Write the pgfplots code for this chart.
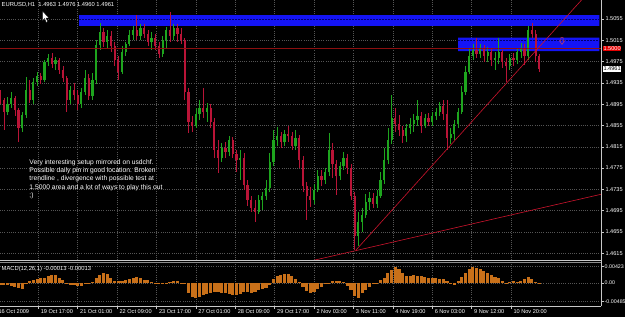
\documentclass[border=0pt]{standalone}
\usepackage{pgfplots}
\pgfplotsset{compat=1.18}
\usepackage{pgfplotstable}
\usepackage{fontspec}
\setmainfont{Liberation Sans}
\definecolor{upc}{RGB}{30,165,30}
\definecolor{dnc}{RGB}{185,20,55}
\definecolor{rectblue}{RGB}{20,20,245}
\definecolor{dashnavy}{RGB}{0,0,110}
\definecolor{hlinec}{RGB}{140,15,15}
\definecolor{trendc}{RGB}{205,20,45}
\definecolor{gridc}{RGB}{85,85,85}
\definecolor{axc}{RGB}{200,200,200}
\definecolor{macdc}{RGB}{200,112,25}
\newcommand{\smallf}{\fontsize{5.6}{6}\selectfont}

\pgfplotstableread{
x o h l c
7 1.48804 1.49085 1.48747 1.48954
10 1.48954 1.49179 1.48879 1.49067
19 1.48503 1.48804 1.48428 1.48747
22 1.48747 1.49461 1.48691 1.49217
28 1.49029 1.49442 1.48954 1.49367
31 1.49367 1.49555 1.49292 1.49480
37 1.49405 1.49780 1.49367 1.49743
40 1.49743 1.49893 1.49668 1.49818
46 1.49705 1.49837 1.49593 1.49780
58 1.49029 1.49292 1.48954 1.49217
67 1.48954 1.49254 1.48879 1.49179
70 1.49179 1.49593 1.49123 1.49442
76 1.49104 1.49536 1.49029 1.49405
79 1.49405 1.50156 1.49330 1.50062
82 1.50062 1.50475 1.49968 1.50306
88 1.50118 1.50344 1.50006 1.50231
100 1.49555 1.50043 1.49517 1.49931
103 1.49931 1.50118 1.49855 1.50081
106 1.50081 1.50344 1.50043 1.50250
109 1.50250 1.50419 1.50156 1.50344
115 1.50231 1.50456 1.50156 1.50381
124 1.50118 1.50306 1.49968 1.50193
133 1.49893 1.50231 1.49837 1.50156
136 1.50156 1.50400 1.50006 1.50344
142 1.50231 1.50456 1.50156 1.50381
160 1.48541 1.48879 1.48503 1.48766
163 1.48766 1.49029 1.48654 1.48879
169 1.48804 1.48973 1.48616 1.48879
181 1.47940 1.48222 1.47865 1.48128
187 1.48053 1.48353 1.47978 1.48278
196 1.47902 1.48090 1.47527 1.47940
211 1.46926 1.47245 1.46888 1.47151
214 1.47151 1.47301 1.46963 1.47226
217 1.47226 1.47527 1.47151 1.47377
220 1.47377 1.48034 1.47301 1.47865
223 1.47865 1.48466 1.47790 1.48278
226 1.48278 1.48522 1.48165 1.48353
232 1.48240 1.48466 1.48165 1.48391
241 1.48165 1.48466 1.48090 1.48316
256 1.47151 1.47452 1.47076 1.47339
259 1.47339 1.47715 1.47301 1.47602
265 1.47527 1.47752 1.47452 1.47677
268 1.47677 1.48409 1.47602 1.48090
277 1.47602 1.47865 1.47527 1.47790
280 1.47790 1.48053 1.47715 1.47940
292 1.46475 1.46926 1.46287 1.46738
295 1.46738 1.47001 1.46550 1.46870
298 1.46870 1.47264 1.46813 1.47114
301 1.47114 1.47301 1.46963 1.47189
307 1.47076 1.47339 1.47001 1.47226
310 1.47226 1.47677 1.47189 1.47527
313 1.47527 1.48128 1.47452 1.47902
316 1.47902 1.48503 1.47827 1.48278
319 1.48278 1.49123 1.48203 1.48691
331 1.48353 1.48578 1.48240 1.48503
334 1.48503 1.48691 1.48391 1.48578
337 1.48578 1.48766 1.48428 1.48654
340 1.48654 1.49029 1.48541 1.48729
346 1.48541 1.48766 1.48503 1.48691
352 1.48616 1.48804 1.48541 1.48729
355 1.48729 1.48879 1.48654 1.48804
358 1.48804 1.48992 1.48729 1.48916
367 1.48316 1.48503 1.48203 1.48391
370 1.48391 1.48654 1.48278 1.48578
373 1.48578 1.48879 1.48503 1.48804
376 1.48804 1.49292 1.48766 1.49179
379 1.49179 1.49668 1.49123 1.49555
382 1.49555 1.50006 1.49517 1.49855
385 1.49855 1.50081 1.49780 1.49968
391 1.49893 1.50081 1.49818 1.50006
397 1.49855 1.50024 1.49743 1.49931
403 1.49780 1.49931 1.49593 1.49818
406 1.49818 1.50193 1.49705 1.49931
415 1.49668 1.49893 1.49593 1.49818
421 1.49780 1.50006 1.49705 1.49931
424 1.49931 1.50100 1.49818 1.50006
430 1.49855 1.50419 1.49780 1.50344
}\upt

\pgfplotstableread{
x o h l c
1 1.49123 1.49217 1.48954 1.49029
4 1.49029 1.49067 1.48466 1.48804
13 1.49067 1.49104 1.48729 1.48841
16 1.48841 1.48879 1.48240 1.48503
25 1.49217 1.49405 1.48973 1.49029
34 1.49480 1.49536 1.49330 1.49405
43 1.49818 1.49912 1.49630 1.49705
49 1.49780 1.49818 1.49517 1.49593
52 1.49593 1.49668 1.49367 1.49442
55 1.49442 1.49480 1.48804 1.49029
61 1.49217 1.49348 1.49029 1.49123
64 1.49123 1.49217 1.48841 1.48954
73 1.49442 1.49517 1.49029 1.49104
85 1.50306 1.50381 1.50024 1.50118
91 1.50231 1.50325 1.49931 1.50043
94 1.50043 1.50118 1.49668 1.49780
97 1.49780 1.49855 1.49405 1.49555
112 1.50344 1.50625 1.50156 1.50231
118 1.50381 1.50456 1.50193 1.50269
121 1.50269 1.50344 1.50043 1.50118
127 1.50193 1.50269 1.49968 1.50043
130 1.50043 1.50118 1.49818 1.49893
139 1.50344 1.50682 1.50118 1.50231
145 1.50381 1.50456 1.50118 1.50269
148 1.50269 1.50381 1.50081 1.50156
151 1.50156 1.50193 1.49029 1.49179
154 1.49179 1.49254 1.48409 1.48616
157 1.48616 1.48729 1.48428 1.48541
166 1.48879 1.49254 1.48691 1.48804
172 1.48879 1.48954 1.48503 1.48616
175 1.48616 1.48691 1.47940 1.48090
178 1.48090 1.48278 1.47658 1.47940
184 1.48128 1.48240 1.47940 1.48053
190 1.48278 1.48334 1.47940 1.48015
193 1.48015 1.48090 1.47677 1.47902
199 1.47940 1.48034 1.47339 1.47433
202 1.47433 1.47527 1.47039 1.47151
205 1.47151 1.47226 1.46926 1.47001
208 1.47001 1.47151 1.46738 1.46926
229 1.48353 1.48428 1.48128 1.48240
235 1.48391 1.48541 1.48240 1.48353
238 1.48353 1.48428 1.48090 1.48165
244 1.48316 1.48372 1.47752 1.47902
247 1.47902 1.47978 1.47301 1.47414
250 1.47414 1.47489 1.46776 1.47226
253 1.47226 1.47395 1.47020 1.47151
262 1.47602 1.47715 1.47414 1.47527
271 1.48090 1.48222 1.47564 1.47827
274 1.47827 1.47902 1.47245 1.47602
283 1.47940 1.48015 1.47640 1.47752
286 1.47752 1.47827 1.47151 1.47226
289 1.47226 1.47301 1.46212 1.46475
304 1.47189 1.47283 1.47001 1.47076
322 1.48691 1.48879 1.48428 1.48578
325 1.48578 1.48747 1.48353 1.48466
328 1.48466 1.48541 1.48222 1.48353
343 1.48729 1.48804 1.48409 1.48541
349 1.48691 1.48785 1.48541 1.48616
361 1.48916 1.49029 1.48654 1.48766
364 1.48766 1.49029 1.48090 1.48316
388 1.49968 1.50193 1.49818 1.49893
394 1.50006 1.50062 1.49743 1.49855
400 1.49931 1.50006 1.49668 1.49780
409 1.49931 1.49968 1.49630 1.49743
412 1.49743 1.49818 1.49367 1.49668
418 1.49818 1.49912 1.49668 1.49780
427 1.50006 1.50081 1.49686 1.49855
433 1.50344 1.50475 1.50193 1.50269
436 1.50269 1.50344 1.49743 1.49855
439 1.49855 1.49893 1.49555 1.49611
}\dnt

\pgfplotstableread{
x m
1 -0.00039
4 -0.00044
7 -0.00039
10 -0.00065
13 -0.00091
16 -0.00117
19 -0.00148
22 0.00008
25 0.00065
28 0.00078
31 0.00117
34 0.00130
37 0.00143
40 0.00182
43 0.00216
46 0.00208
49 0.00130
52 0.00078
55 0.00013
58 -0.00039
61 -0.00044
64 -0.00065
67 -0.00086
70 -0.00026
73 0.00008
76 0.00026
79 0.00130
82 0.00221
85 0.00260
88 0.00234
91 0.00130
94 0.00052
97 0.00044
100 0.00065
103 0.00086
106 0.00104
109 0.00143
112 0.00148
115 0.00130
118 0.00091
121 0.00078
124 0.00026
127 0.00008
130 -0.00005
133 -0.00026
136 -0.00026
139 0.00026
142 0.00060
145 0.00052
148 0.00013
151 -0.00026
154 -0.00260
157 -0.00351
160 -0.00390
163 -0.00364
166 -0.00312
169 -0.00286
172 -0.00260
175 -0.00221
178 -0.00234
181 -0.00260
184 -0.00260
187 -0.00273
190 -0.00299
193 -0.00304
196 -0.00273
199 -0.00234
202 -0.00221
205 -0.00247
208 -0.00234
211 -0.00169
214 -0.00143
217 -0.00130
220 -0.00039
223 0.00104
226 0.00195
229 0.00216
232 0.00247
235 0.00247
238 0.00182
241 0.00104
244 0.00039
247 -0.00104
250 -0.00195
253 -0.00260
256 -0.00221
259 -0.00156
262 -0.00091
265 -0.00026
268 0.00013
271 0.00060
274 0.00052
277 0.00044
280 0.00026
283 -0.00065
286 -0.00182
289 -0.00325
292 -0.00390
295 -0.00260
298 -0.00169
301 -0.00104
304 -0.00026
307 0.00013
310 0.00078
313 0.00130
316 0.00260
319 0.00338
322 0.00423
325 0.00364
328 0.00273
331 0.00195
334 0.00182
337 0.00208
340 0.00182
343 0.00195
346 0.00169
349 0.00130
352 0.00130
355 0.00130
358 0.00104
361 0.00104
364 0.00052
367 -0.00013
370 -0.00039
373 0.00052
376 0.00156
379 0.00260
382 0.00364
385 0.00416
388 0.00403
391 0.00364
394 0.00312
397 0.00273
400 0.00208
403 0.00169
406 0.00130
409 0.00052
412 0.00013
415 0.00039
418 0.00052
421 0.00039
424 0.00052
427 0.00104
430 0.00169
433 0.00104
436 0.00039
439 -0.00013
}\macdt

% draw candles of a table: #1 table, #2 colour, #3 last row index
\newcommand{\drawcandles}[3]{%
  \pgfplotsforeachungrouped \i in {0,...,#3}{%
    \pgfplotstablegetelem{\i}{x}\of#1\let\cX\pgfplotsretval
    \pgfplotstablegetelem{\i}{o}\of#1\let\cO\pgfplotsretval
    \pgfplotstablegetelem{\i}{h}\of#1\let\cH\pgfplotsretval
    \pgfplotstablegetelem{\i}{l}\of#1\let\cL\pgfplotsretval
    \pgfplotstablegetelem{\i}{c}\of#1\let\cC\pgfplotsretval
    \edef\doit{%
      \noexpand\addplot[#2, line width=0.6pt, forget plot] coordinates {(\cX,\cL) (\cX,\cH)};
      \noexpand\addplot[#2, line width=2.2pt, forget plot] coordinates {(\cX,\cO) (\cX,\cC)};
    }\doit
  }%
}

\begin{document}
\begin{tikzpicture}
\useasboundingbox (0,0) rectangle (625pt,317pt);
\fill[black] (0,0) rectangle (625pt,317pt);

% ---------------- main price panel ----------------
\begin{axis}[
  at={(0pt,57pt)}, anchor=south west, scale only axis,
  width=601pt, height=260pt,
  xmin=0.894, xmax=489.1, ymin=1.46024, ymax=1.50907,
  axis line style={draw=none},
  scaled ticks=false,
  tick align=outside, major tick length=2.5pt,
  xtick={32,64,96,128,160,192,224,256,288,320,352,384,416},
  xticklabels={}, xtick style={draw=none},
  ytick={1.4615,1.4655,1.4695,1.4735,1.4775,1.4815,1.4855,1.4895,1.4935,1.4975,1.5015,1.5055},
  yticklabels={1.4615,1.4655,1.4695,1.4735,1.4775,1.4815,1.4855,1.4895,1.4935,1.4975,1.5015,1.5055},
  ytick pos=right, yticklabel pos=right,
  yticklabel style={xshift=-1.5pt},
  ytick style={draw=axc, line width=0.5pt},
  tick label style={font=\smallf, text=white},
  grid=major,
  major grid style={draw=gridc, line width=0.5pt, dash pattern=on 0.7pt off 1.5pt},
]
% resistance zones
\addplot[fill=rectblue, draw=none, forget plot] coordinates {(65.1,1.50419) (487.7,1.50419) (487.7,1.50625) (65.1,1.50625) (65.1,1.50419)};
\addplot[fill=rectblue, draw=none, forget plot] coordinates {(373.0,1.49949) (487.7,1.49949) (487.7,1.50199) (373.0,1.50199) (373.0,1.49949)};
\addplot[dashnavy, line width=0.5pt, dash pattern=on 1.5pt off 1.5pt, forget plot] coordinates {(65.1,1.5055) (487.7,1.5055)};
\addplot[dashnavy, line width=0.5pt, dash pattern=on 1.5pt off 1.5pt, forget plot] coordinates {(373.0,1.5015) (487.7,1.5015)};

% candles
\drawcandles{\upt}{upc}{76}
\drawcandles{\dnt}{dnc}{69}

% 1.5000 level
\addplot[hlinec, line width=1.1pt, forget plot] coordinates {(0.894,1.5000) (489.1,1.5000)};
% trend lines
\addplot[trendc, line width=0.6pt, forget plot] coordinates {(240,1.45935) (489.1,1.47258)};
\addplot[trendc, line width=0.6pt, forget plot] coordinates {(290.1,1.46212) (480,1.51079)};
\end{axis}

% ---------------- MACD panel ----------------
\begin{axis}[
  at={(0pt,11pt)}, anchor=south west, scale only axis,
  width=601pt, height=43.5pt,
  xmin=0.894, xmax=489.1, ymin=-0.00598, ymax=0.00533,
  axis line style={draw=none},
  scaled ticks=false,
  tick align=outside, major tick length=2.5pt,
  xtick={32,64,96,128,160,192,224,256,288,320,352,384,416},
  xticklabels={19 Oct 17:00,21 Oct 01:00,22 Oct 09:00,23 Oct 17:00,27 Oct 01:00,28 Oct 09:00,29 Oct 17:00,2 Nov 03:00,3 Nov 11:00,4 Nov 19:00,6 Nov 03:00,9 Nov 12:00,10 Nov 20:00},
  xtick pos=bottom, xticklabel pos=bottom,
  xticklabel style={anchor=west, xshift=-1pt, yshift=-3.5pt},
  xtick style={draw=axc, line width=0.5pt},
  ytick={-0.00485,0,0.00423},
  yticklabels={-0.00485,0.00,0.00423},
  ytick pos=right, yticklabel pos=right,
  yticklabel style={xshift=-2.3pt, font=\fontsize{5.3}{6}\selectfont},
  ytick style={draw=axc, line width=0.5pt},
  tick label style={font=\smallf, text=white},
  grid=major,
  major grid style={draw=gridc, line width=0.5pt, dash pattern=on 0.7pt off 1.5pt},
]
\addplot[ycomb, draw=macdc, line width=3.1pt, mark=none] table[x=x, y=m] {\macdt};
\end{axis}

% frame lines
\draw[axc, line width=0.8pt] (601pt,11pt) -- (601pt,317pt);
\draw[axc, line width=0.8pt] (0,11pt) -- (601pt,11pt);
\draw[axc, line width=0.7pt] (0,56.7pt) -- (601pt,56.7pt);
\draw[axc!70!black, line width=0.7pt] (0,54.8pt) -- (601pt,54.8pt);

% down-arrow object
\draw[trendc!80!white, line width=0.45pt] (560.9pt,279.4pt) -- (563.1pt,279.4pt) -- (563.1pt,276.2pt) -- (564.6pt,276.2pt) -- (562pt,272.6pt) -- (559.4pt,276.2pt) -- (560.9pt,276.2pt) -- cycle;

% labels
\node[anchor=west, inner sep=0pt, text=white, font=\smallf] at (-1.6pt,5pt) {16 Oct 2009};
\node[anchor=west, inner sep=0pt, text=white, font=\fontsize{5.8}{6.2}\selectfont] at (1.5pt,312.3pt) {EURUSD,H1\ \ 1.4963 1.4976 1.4960 1.4961};
\node[anchor=west, inner sep=0pt, text=white, font=\fontsize{5.8}{6.2}\selectfont] at (1.5pt,48pt) {MACD(12,26,1) -0.00013 -0.00013};
\node[anchor=west, fill=red!90!black, text=white, inner sep=0.7pt, font=\smallf] at (602.6pt,268.7pt) {1.5000};
\node[anchor=west, fill=white, text=black, inner sep=0.7pt, font=\smallf] at (602.6pt,248pt) {1.4961};
\node[anchor=north west, inner sep=0pt, text=white, align=left, font=\fontsize{6.7}{8.3}\selectfont] at (29.3pt,157.8pt)
  {Very interesting setup mirrored on usdchf.\\Possible daily pin in good location. Broken\\trendline , divergence with possible test at\\1.5000 area and a lot of ways to play this out\\;)};

% mouse cursor
\filldraw[fill=white, draw=black, line width=0.3pt] (42.5pt,306pt) -- (42.5pt,296.5pt) -- (44.6pt,298.5pt) -- (46.3pt,294.6pt) -- (47.7pt,295.3pt) -- (46.0pt,299.1pt) -- (48.8pt,299.1pt) -- cycle;
\end{tikzpicture}
\end{document}
